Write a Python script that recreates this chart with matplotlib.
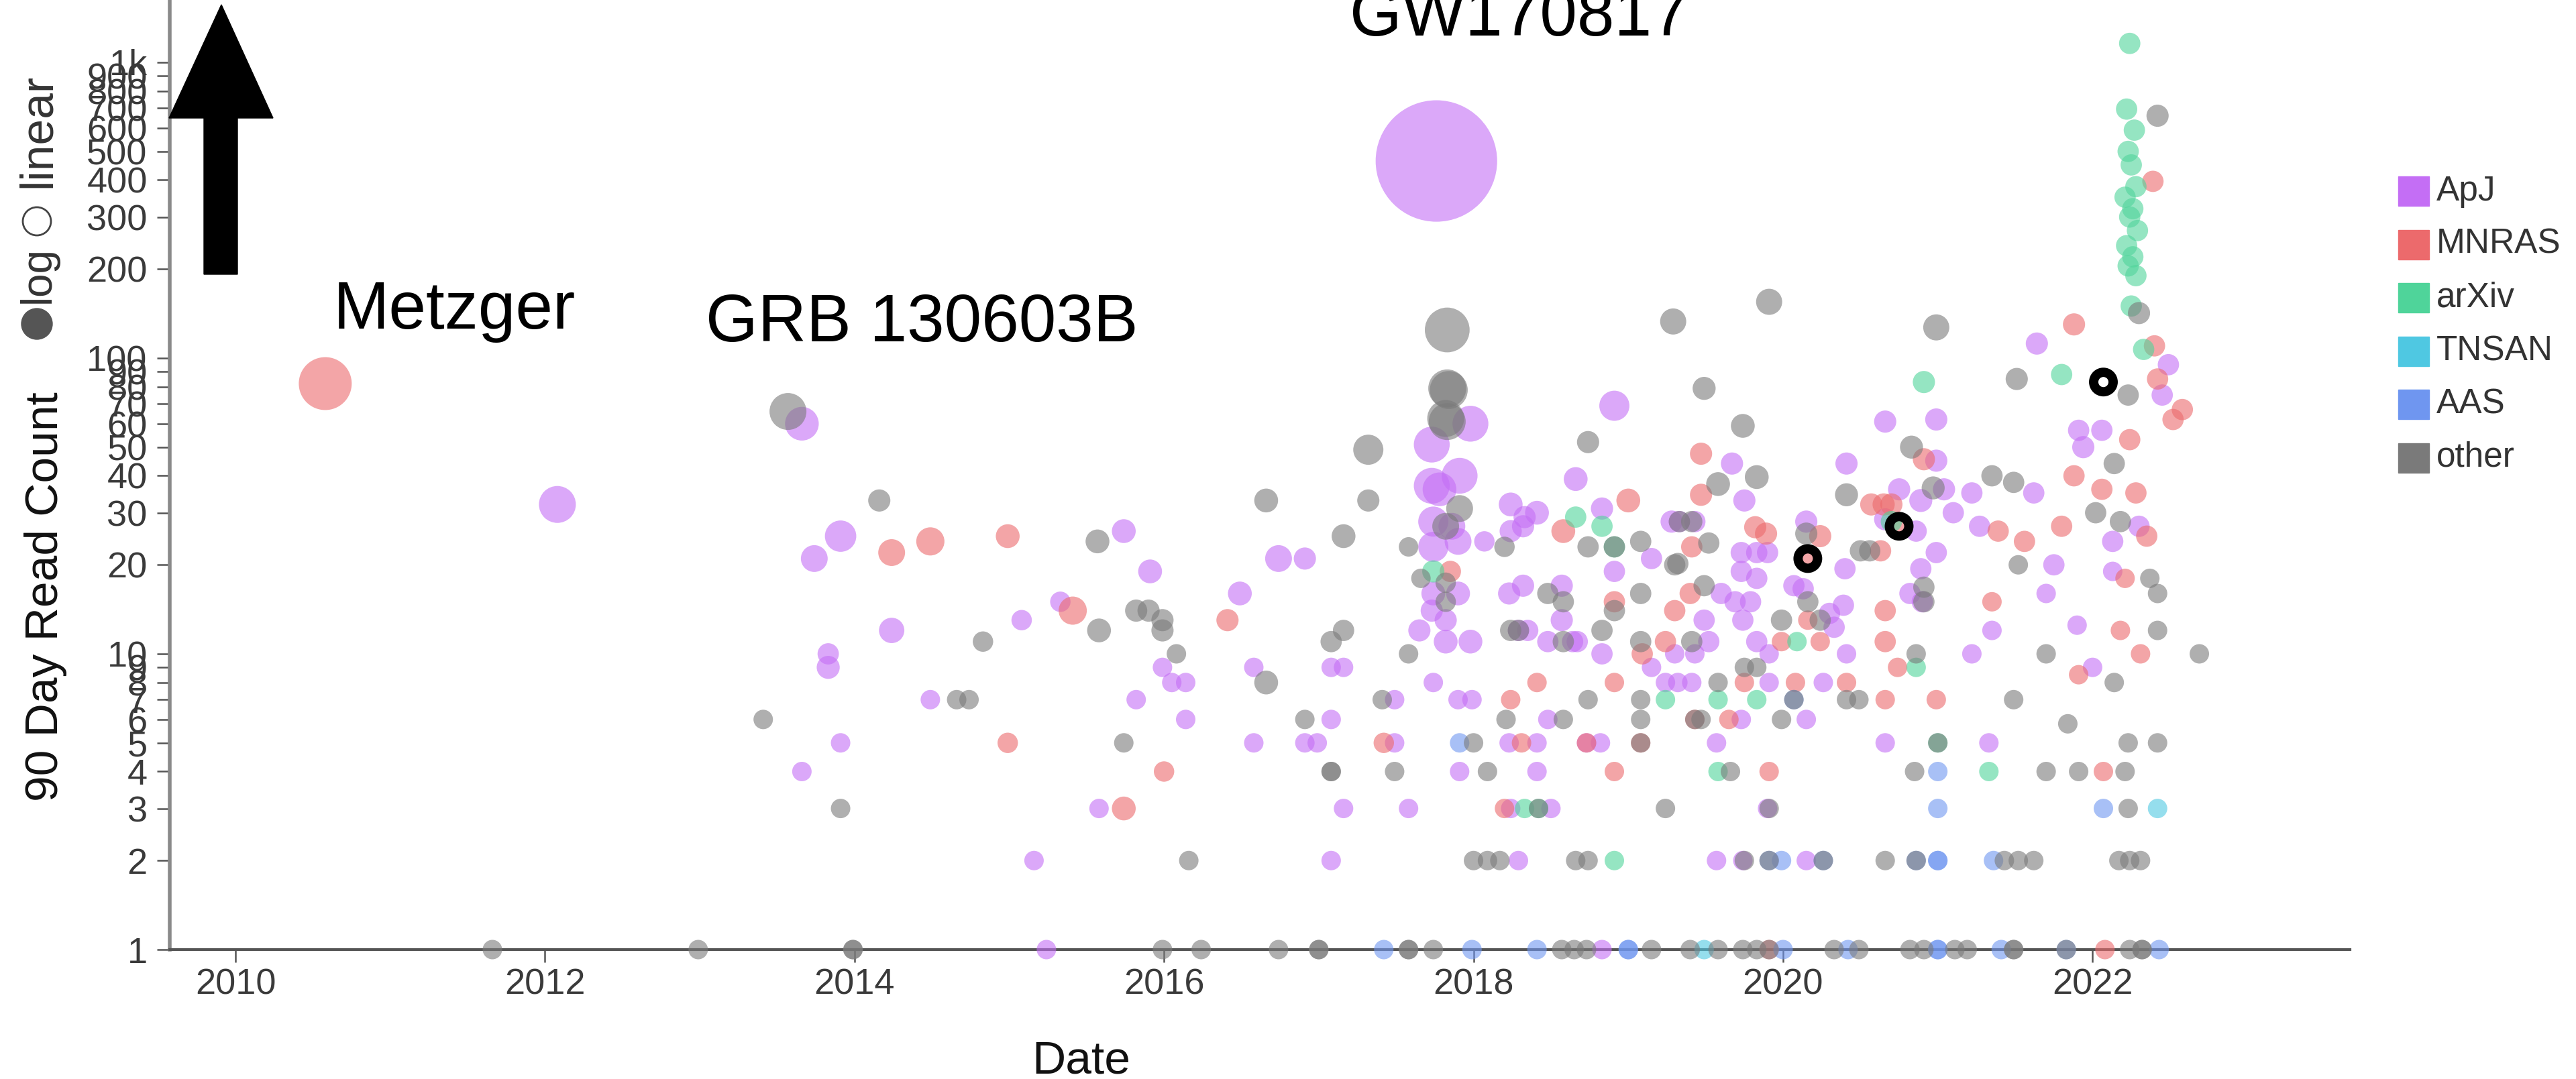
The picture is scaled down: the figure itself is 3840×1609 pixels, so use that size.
import numpy as np
import matplotlib.pyplot as plt
from matplotlib.patches import Polygon, Rectangle, Ellipse

plt.rcParams['font.family'] = ['Liberation Sans', 'DejaVu Sans']

W, H = 3841, 1609

journals = ['ApJ', 'MNRAS', 'arXiv', 'TNSAN', 'AAS', 'other']
colors = ['#c46ef5', '#ec6a6c', '#4fd49a', '#4fc8e2', '#6f96f0', '#7a7a7a']

# ApJ papers: date (decimal year), 90 day reads, citation weight
apj_date = [2012.08, 2013.66, 2013.91, 2013.74, 2013.83, 2013.83, 2013.91, 2013.66, 2014.24, 2014.49,
            2015.08, 2015.33, 2015.74, 2015.91, 2015.82, 2015.58, 2015.16, 2015.24, 2015.99, 2016.05,
            2016.14, 2016.14, 2016.49, 2016.58, 2016.58, 2016.74, 2016.91, 2016.91, 2016.99, 2017.08,
            2017.16, 2017.08, 2017.16, 2017.08, 2017.49, 2017.49, 2017.58,
            2017.76, 2017.98, 2017.73, 2017.73, 2017.78, 2017.91, 2017.74, 2017.86, 2017.74, 2017.90,
            2018.07, 2017.74, 2017.90, 2017.73, 2017.82, 2017.65, 2017.82, 2017.98, 2017.74, 2017.90,
            2017.99, 2017.91, 2018.23, 2018.32, 2018.24, 2018.33, 2018.41, 2018.32, 2018.24, 2018.29,
            2018.35, 2018.48, 2018.57, 2018.57, 2018.64, 2018.67, 2018.66, 2018.83, 2018.91, 2018.91,
            2018.83, 2018.48, 2018.23, 2018.41, 2018.73, 2018.82, 2018.41, 2018.24, 2018.50, 2018.29,
            2018.83, 2019.15, 2019.28, 2019.15, 2019.30, 2019.24, 2019.32, 2019.41,
            2019.33, 2019.43, 2019.60, 2019.69, 2019.79, 2019.49, 2019.74, 2019.52, 2019.43, 2019.83,
            2019.67, 2019.75, 2019.73, 2019.83, 2019.90, 2019.73, 2019.83, 2019.91, 2019.91, 2019.73,
            2019.57, 2019.90, 2019.57, 2019.74, 2020.07, 2020.13, 2020.15, 2020.15, 2020.15, 2020.26,
            2020.30, 2020.33, 2020.39, 2020.40, 2020.41, 2020.41, 2020.66, 2020.66, 2020.66, 2020.75,
            2020.82, 2020.86, 2020.89, 2020.89, 2020.90, 2020.99, 2020.99, 2020.99, 2021.04,
            2021.64, 2021.22, 2021.27, 2021.62, 2021.75, 2021.94, 2021.91, 2022.06, 2022.13, 2022.30,
            2022.49, 2022.45, 2021.35, 2021.90, 2021.22, 2021.33, 2022.13, 2021.70, 2022.00, 2021.10]
apj_reads = [32, 60, 25, 21, 10, 9, 5, 4, 12, 7,
             13, 15, 26, 19, 7, 3, 2, 1, 9, 8,
             8, 6, 16, 9, 5, 21, 21, 5, 5, 9,
             9, 6, 3, 2, 7, 5, 3,
             464, 60, 51, 37, 36, 40, 28, 27, 23, 24,
             24, 16, 16, 14, 13, 12, 11, 11, 8, 7,
             7, 4, 16, 17, 32, 29, 30, 27, 26, 12,
             12, 11, 17, 13, 11, 11, 39, 31, 69, 19,
             10, 6, 5, 5, 5, 5, 4, 3, 3, 2,
             1, 21, 28, 9, 10, 8, 8, 8,
             28, 28, 16, 15, 15, 13, 13, 11, 10, 11,
             44, 33, 22, 22, 22, 19, 18, 10, 8, 6,
             5, 3, 2, 2, 17, 16.6, 28, 6, 2, 8,
             13.7, 12.3, 14.6, 19.4, 44, 10, 61, 28.5, 5, 36,
             16, 26, 33, 19.4, 15, 62, 45, 22, 36,
             112, 35, 27, 35, 20, 50, 57, 57, 24, 27,
             95, 75, 12, 12.5, 10, 5, 19, 16, 9, 30]
apj_cites = [3.6, 3.0, 2.6, 1.9, 1.2, 1.4, 1, 1, 1.7, 1,
             1.1, 1.1, 1.5, 1.5, 1, 1, 1, 1, 1, 1,
             1, 1, 1.5, 1, 1, 1.9, 1.3, 1, 1, 1,
             1, 1, 1, 1, 1, 1, 1,
             39, 3.4, 3.4, 3.4, 3.0, 3.4, 2.4, 1.9, 2.4, 1.9,
             1.1, 1.5, 1.5, 1.3, 1.3, 1.3, 1.5, 1.5, 1, 1,
             1, 1, 1.3, 1.3, 1.5, 1.3, 1.5, 1.3, 1.3, 1.2,
             1.2, 1.2, 1.3, 1.3, 1.2, 1.2, 1.5, 1.3, 2.4, 1.2,
             1.2, 1, 1, 1, 1, 1, 1, 1, 1, 1,
             1, 1.2, 1.3, 1, 1, 1, 1, 1,
             1.2, 1.2, 1.2, 1.2, 1.2, 1.2, 1.2, 1.2, 1, 1.2,
             1.3, 1.3, 1.2, 1.2, 1.2, 1.2, 1.2, 1, 1, 1,
             1, 1, 1, 1, 1.2, 1.2, 1.3, 1, 1, 1,
             1.2, 1.2, 1.2, 1.2, 1.3, 1, 1.3, 1.3, 1, 1.3,
             1.2, 1.2, 1.4, 1.2, 1.2, 1.3, 1.3, 1.2, 1.3,
             1.3, 1.2, 1.2, 1.2, 1.2, 1.3, 1.2, 1.2, 1.2, 1.2,
             1.2, 1.2, 1, 1, 1, 1, 1, 1, 1, 1.2]

mnras_date = [2010.58, 2014.24, 2014.49, 2014.99, 2015.41, 2016.41, 2014.99, 2016.00, 2015.74, 2017.42,
              2017.85, 2018.20, 2018.24, 2018.31, 2018.41, 2018.58, 2018.73, 2018.91, 2018.91, 2018.91,
              2019.00, 2019.09, 2019.30, 2019.24, 2019.08, 2019.40, 2019.41, 2019.43, 2019.47, 2019.47,
              2019.65, 2019.75, 2019.82, 2019.89, 2019.91, 2019.99, 2020.08, 2020.16, 2020.24, 2020.24,
              2020.41, 2020.57, 2020.65, 2020.70, 2020.63, 2020.66, 2020.66, 2020.66, 2020.74, 2020.91,
              2020.99, 2020.16, 2020.75, 2019.91, 2022.08,
              2021.88, 2022.39, 2022.40, 2022.42, 2022.58, 2022.52, 2022.24, 2021.39, 2021.56, 2021.80,
              2021.88, 2022.06, 2022.28, 2022.35, 2022.21, 2022.18, 2021.91, 2022.31, 2021.35, 2022.07]
mnras_reads = [82, 22, 24, 25, 14, 13, 5, 4, 3, 5,
               19, 3, 7, 5, 8, 26, 5, 15, 8, 4,
               33, 10, 14, 11, 5, 16, 23, 6, 34.5, 47.5,
               6, 8, 26.8, 25.5, 4, 11, 8, 13, 25, 11,
               8, 32, 32, 32, 22.3, 14, 11, 7, 9, 45.5,
               7, 21, 27, 1, 1,
               130, 396, 110, 85, 67, 62, 53, 26, 24, 27,
               40, 36, 35, 25, 18, 12, 8.5, 10, 15, 4]
mnras_cites = [7.4, 1.9, 2.1, 1.5, 2.1, 1.3, 1.1, 1.1, 1.5, 1.1,
               1.2, 1, 1, 1, 1, 1.5, 1, 1.2, 1, 1,
               1.5, 1.2, 1.2, 1.2, 1, 1.2, 1.2, 1, 1.3, 1.3,
               1, 1, 1.3, 1.3, 1, 1, 1, 1, 1.3, 1,
               1, 1.3, 1.3, 1.3, 1.2, 1.2, 1.2, 1, 1, 1.3,
               1, 1.2, 1.2, 1, 1,
               1.3, 1.2, 1.2, 1.2, 1.2, 1.2, 1.2, 1.2, 1.2, 1.2,
               1.2, 1.2, 1.2, 1.2, 1, 1, 1, 1, 1, 1]

arxiv_date = [2017.74, 2018.66, 2018.83, 2018.91, 2018.33, 2018.42, 2018.91, 2019.24, 2019.58, 2019.83,
              2020.09, 2020.70, 2020.86, 2020.91, 2021.00, 2019.58,
              2022.24, 2022.22, 2022.27, 2022.23, 2022.25, 2022.28, 2022.21, 2022.26, 2022.24, 2022.29,
              2022.22, 2022.26, 2022.23, 2022.28, 2022.25, 2022.33, 2021.80, 2021.33]
arxiv_reads = [19, 29, 27, 23, 3, 3, 2, 7, 7, 7,
               11, 28, 9, 83, 5, 4,
               1159, 695, 590, 500, 450, 380, 350, 320, 300, 270,
               240, 220, 205, 190, 150, 107, 88, 4]
arxiv_cites = [1.3, 1.2, 1.2, 1.2, 1, 1, 1, 1, 1, 1,
               1, 1.2, 1, 1.3, 1, 1,
               1.2, 1.2, 1.2, 1.2, 1.2, 1.2, 1.2, 1.2, 1.2, 1.2,
               1.2, 1.2, 1.2, 1.2, 1.2, 1.2, 1.2, 1]

tnsan_date = [2019.49, 2022.42]
tnsan_reads = [1, 3]
tnsan_cites = [1, 1]

aas_date = [2017.42, 2017.99, 2018.41, 2019.00, 2019.00, 2020.00, 2020.42, 2021.00, 2021.00, 2021.41,
            2022.43, 2017.91, 2019.99, 2020.26, 2020.86, 2021.00, 2021.00, 2021.00, 2021.00, 2020.07,
            2019.91, 2021.83, 2022.07, 2021.36]
aas_reads = [1, 1, 1, 1, 1, 1, 1, 1, 1, 1,
             1, 5, 2, 2, 2, 2, 2, 4, 3, 7,
             2, 1, 3, 2]
aas_cites = [1] * len(aas_date)

other_date = [2011.66, 2012.99, 2013.99, 2013.99, 2013.57, 2013.41, 2013.91, 2014.16, 2014.66, 2014.74,
              2014.83, 2015.57, 2015.58, 2015.74, 2015.82, 2015.90, 2015.99, 2015.99, 2015.99, 2016.08,
              2016.16, 2016.24, 2016.66, 2016.66, 2016.74, 2016.91, 2017.00, 2017.00, 2017.08, 2017.16,
              2017.16, 2017.08, 2017.08, 2017.32, 2017.32, 2017.41, 2017.49, 2017.58, 2017.58, 2017.58,
              2017.58, 2017.74, 2017.66, 2017.82, 2017.82, 2017.83, 2017.83, 2017.84, 2017.82, 2017.83,
              2017.91, 2017.82, 2018.00, 2018.09, 2018.00, 2018.09, 2018.17, 2018.20, 2018.21, 2018.24,
              2018.29, 2018.48, 2018.58, 2018.58, 2018.58, 2018.42, 2018.74, 2018.74, 2018.74, 2018.66,
              2018.74, 2018.57, 2018.65, 2018.73, 2018.83, 2018.91, 2018.91, 2019.08, 2019.08, 2019.08,
              2019.08, 2019.08, 2019.08, 2019.30, 2019.29, 2019.33, 2019.41, 2019.52, 2019.32, 2019.49,
              2019.41, 2019.43, 2019.47, 2019.24, 2019.58, 2019.75, 2019.83, 2019.66, 2019.58, 2019.49,
              2019.74, 2019.83, 2019.91, 2019.91, 2019.75, 2019.91, 2019.99, 2019.99, 2020.15, 2020.16,
              2020.24, 2020.07, 2020.26, 2020.41, 2020.41, 2020.49, 2020.50, 2020.56, 2020.66, 2020.83,
              2020.85, 2020.86, 2020.86, 2020.91, 2020.91, 2020.97, 2020.99, 2021.00,
              2019.15, 2019.40, 2019.58, 2019.74, 2019.83, 2019.91, 2020.33, 2020.49, 2020.82, 2020.91,
              2021.11, 2021.19, 2021.49, 2021.49, 2021.83, 2022.24, 2022.32, 2022.32,
              2021.51, 2022.30, 2022.42, 2022.23, 2022.14, 2021.35, 2021.49, 2021.52, 2021.70, 2022.02,
              2022.18, 2022.37, 2022.42, 2022.42, 2022.69, 2022.14, 2021.49, 2021.84, 2022.23, 2022.42,
              2021.70, 2021.91, 2022.21, 2022.23, 2022.17, 2022.24, 2022.31, 2021.43, 2021.52, 2021.62]
other_reads = [1, 1, 1, 1, 66, 6, 3, 33, 7, 7,
               11, 24, 12, 5, 14, 14, 13, 12, 1, 10,
               2, 1, 33, 8, 1, 6, 1, 1, 11, 12,
               25, 4, 4, 49, 33, 7, 4, 23, 10, 1,
               1, 1, 18, 17.4, 15, 124.5, 79, 78, 62.5, 61,
               31, 27, 5, 4, 2, 2, 2, 23, 6, 12,
               12, 16, 15, 11, 6, 3, 52, 23, 7, 2,
               2, 1, 1, 1, 12, 14, 23, 24, 16, 11,
               7, 6, 5, 20, 133, 28, 28, 23.7, 20.2, 17,
               11, 6, 6, 3, 8, 9, 9, 4, 37.5, 79,
               59, 39.6, 155, 3, 2, 2, 13, 6, 25.5, 15,
               13, 7, 2, 34.5, 7, 7, 22.3, 22.3, 2, 50,
               4, 10, 2, 16.8, 15, 36.4, 127, 5,
               1, 1, 1, 1, 1, 1, 1, 1, 1, 1,
               1, 1, 1, 1, 1, 1, 1, 1,
               85, 142, 660, 75, 44, 40, 38, 20, 10, 30,
               28, 18, 16, 12, 10, 8, 7, 5.8, 5, 5,
               4, 4, 4, 3, 2, 2, 2, 2, 2, 2]
other_cites = [1, 1, 1, 1, 3.6, 1, 1, 1.3, 1, 1,
               1.1, 1.5, 1.5, 1, 1.3, 1.3, 1.3, 1.3, 1, 1,
               1, 1, 1.5, 1.5, 1, 1, 1, 1, 1.2, 1.2,
               1.5, 1, 1, 2.4, 1.3, 1, 1, 1, 1, 1,
               1, 1, 1, 1.1, 1.1, 5.3, 3.8, 3.8, 3.6, 3.6,
               1.9, 1.9, 1, 1, 1, 1, 1, 1.1, 1, 1.2,
               1.2, 1.2, 1.2, 1.2, 1, 1, 1.3, 1.2, 1, 1,
               1, 1, 1, 1, 1.2, 1.2, 1.2, 1.2, 1.2, 1.2,
               1, 1, 1, 1.2, 1.8, 1.2, 1.2, 1.2, 1.2, 1.2,
               1.2, 1, 1, 1, 1, 1, 1, 1, 1.5, 1.4,
               1.5, 1.5, 1.8, 1, 1, 1, 1.2, 1, 1.3, 1.2,
               1.2, 1, 1, 1.4, 1, 1, 1.2, 1.2, 1, 1.4,
               1, 1, 1, 1.2, 1.2, 1.4, 1.8, 1,
               1, 1, 1, 1, 1, 1, 1, 1, 1, 1,
               1, 1, 1, 1, 1, 1, 1, 1,
               1.3, 1.3, 1.3, 1.2, 1.2, 1.2, 1.2, 1, 1, 1.2,
               1.2, 1, 1, 1, 1, 1, 1, 1, 1, 1,
               1, 1, 1, 1, 1, 1, 1, 1, 1, 1]

# highlighted papers
ring_date = [2020.16, 2020.75, 2022.07]
ring_reads = [21, 27, 83]

events = ['Metzger', 'GRB 130603B', 'GW170817']
event_date = [2010.63, 2013.04, 2017.20]
event_reads = [126, 114, 1235]

ytick_vals = [1, 2, 3, 4, 5, 6, 7, 8, 9, 10, 20, 30, 40, 50, 60, 70, 80, 90, 100,
              200, 300, 400, 500, 600, 700, 800, 900, 1000]
ytick_text = ['1', '2', '3', '4', '5', '6', '7', '8', '9', '10', '20', '30', '40', '50', '60',
              '70', '80', '90', '100', '200', '300', '400', '500', '600', '700', '800', '900', '1k']
xtick_vals = [2010, 2012, 2014, 2016, 2018, 2020, 2022]


def px(x, y):
    # pixel position (from top left) to figure fraction
    return x / W, 1 - y / H


fig = plt.figure(figsize=(W / 100, H / 100), dpi=100, facecolor='w')
ax = fig.add_axes([253 / W, 1 - 1416 / H, 3250 / W, 1416 / H])
ax.set_yscale('log')
ax.set_xlim(2009.575, 2023.663)
ax.set_ylim(1, 10 ** (1416 / 441))

base = 436  # marker area (pt^2) for a weight of 1
series = [
    (apj_date, apj_reads, apj_cites),
    (mnras_date, mnras_reads, mnras_cites),
    (arxiv_date, arxiv_reads, arxiv_cites),
    (tnsan_date, tnsan_reads, tnsan_cites),
    (aas_date, aas_reads, aas_cites),
    (other_date, other_reads, other_cites),
]
for (d, r, c), col in zip(series, colors):
    ax.scatter(d, r, s=base * np.array(c), color=col, alpha=0.6, linewidths=0,
               clip_on=False, zorder=3)

ax.scatter(ring_date, ring_reads, s=436, facecolors='none', edgecolors='black',
           linewidths=10, clip_on=False, zorder=5)

for name, d, r in zip(events, event_date, event_reads):
    ax.text(d, r, name, fontsize=72, va='baseline', ha='left', color='black', zorder=6)

for s in ['top', 'right']:
    ax.spines[s].set_visible(False)
ax.spines['left'].set_color('#8a8a8a')
ax.spines['left'].set_linewidth(4)
ax.spines['bottom'].set_color('#555555')
ax.spines['bottom'].set_linewidth(3)

ax.set_yticks(ytick_vals)
ax.set_yticklabels(ytick_text)
ax.yaxis.set_minor_locator(plt.NullLocator())
ax.set_xticks(xtick_vals)
ax.set_xticklabels([str(v) for v in xtick_vals])
ax.tick_params(axis='both', labelsize=39, colors='#555555', labelcolor='#3a3a3a',
               length=14, width=1.8)
ax.tick_params(axis='y', pad=10)
ax.tick_params(axis='x', pad=6)

ax.set_xlabel('Date', fontsize=50, color='#111111')
ax.xaxis.set_label_coords(0.418, -0.095)
ax.set_ylabel('90 Day Read Count', fontsize=50, color='#111111')
ax.yaxis.set_label_coords(-0.0472, 0.372)

# scale toggle
fig.add_artist(Ellipse(px(55, 483), 46 / W, 46 / H, transform=fig.transFigure,
                       color='#555555'))
fig.text(*px(57, 410), 'log', rotation=90, fontsize=46, ha='center', va='center', color='#333333')
fig.add_artist(Ellipse(px(55, 330), 42 / W, 42 / H, transform=fig.transFigure,
                       facecolor='white', edgecolor='#444444', linewidth=2))
fig.text(*px(57, 195), 'linear', rotation=90, fontsize=50, ha='center', va='center', color='#333333')

# big arrow
arrow = [(330, 7), (407, 176), (354, 176), (354, 409), (304, 409), (304, 176), (252, 176)]
fig.add_artist(Polygon([px(x, y) for x, y in arrow], closed=True, transform=fig.transFigure,
                       color='black', zorder=10))

# legend
for i, (name, col) in enumerate(zip(journals, colors)):
    yc = 285 + i * 79.5
    fig.add_artist(Rectangle(px(3575, yc + 22), 46 / W, 44 / H, transform=fig.transFigure,
                             color=col))
    fig.text(*px(3632, yc), name, fontsize=37, ha='left', va='center', color='#333333')

fig.savefig('out.png', dpi=100, facecolor='w')
